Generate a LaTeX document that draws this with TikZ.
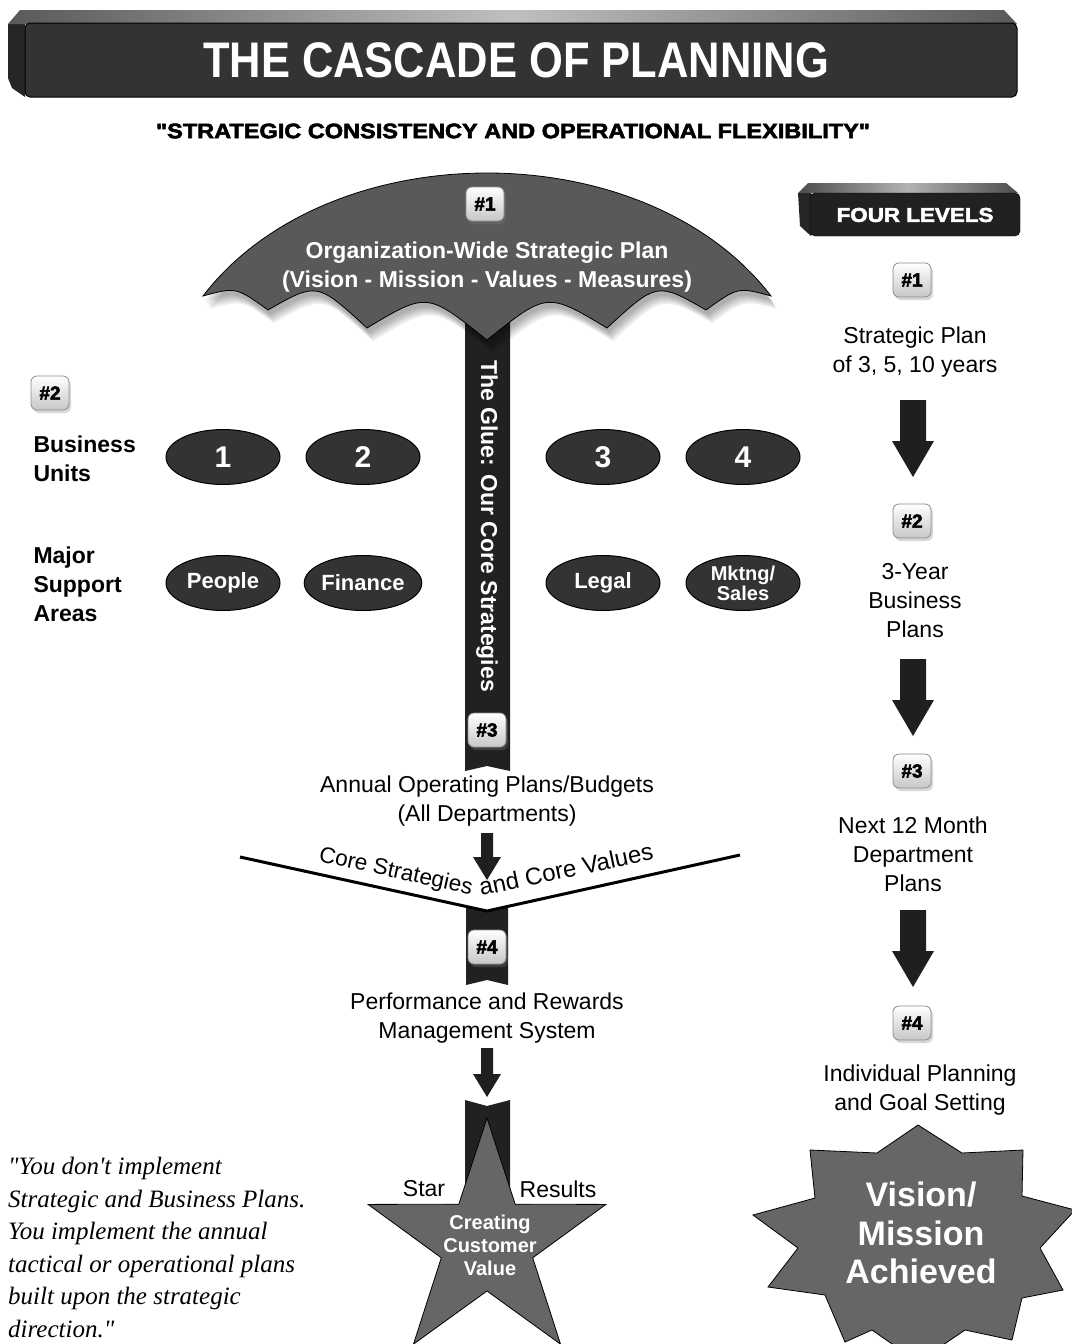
\documentclass[tikz,border=0pt]{standalone}
\usepackage{fontspec}
\usepackage{graphicx}
\setmainfont{Liberation Sans}
\newfontfamily\quotefont{Liberation Serif}
\newfontfamily\heavyfont{Liberation Sans}[BoldFeatures={FakeBold=2.5}]
\usetikzlibrary{shapes.geometric,shadows}

\newcommand\sz[2]{\fontsize{#1}{#2}\selectfont}

% outline of the umbrella canopy: round top, scalloped rim
\newcommand\canopypath{
  (203,296) .. controls (265,215) and (375,173) .. (487,173)
  .. controls (599,173) and (709,215) .. (771,296)
  .. controls (738,287) .. (706,310)
  .. controls (657,282) .. (607,328)
  .. controls (547,292) .. (487,340)
  .. controls (427,292) .. (367,328)
  .. controls (317,282) .. (268,310)
  .. controls (236,287) .. (203,296) -- cycle}

\tikzset{
  stick/.style={fill=black!87},
  badge/.style={draw=black!45, line width=.8pt, rounded corners=6pt,
    top color=white, bottom color=black!22, minimum width=38pt,
    minimum height=34pt, inner sep=0pt,
    font=\heavyfont\bfseries\sz{19}{22},
    drop shadow={opacity=.3, shadow xshift=2pt, shadow yshift=-3pt}},
  unit/.style={ellipse, draw=black, line width=1pt, fill=black!80,
    text=white, minimum width=114pt, minimum height=55pt, inner sep=0pt},
  plain/.style={align=center, font=\sz{23}{29}},
  sidelabel/.style={align=left, font=\bfseries\sz{23}{29}, anchor=west},
  shape fill/.style={fill=black!60, draw=black, line width=.8pt},
  pics/downarrow/.style args={#1/#2/#3/#4}{code={
    \fill[black!88] (-#2,0) -- (#2,0) -- (#2,#1-#4) -- (#3,#1-#4)
      -- (0,#1) -- (-#3,#1-#4) -- (-#2,#1-#4) -- cycle;}}
}

\begin{document}
\begin{tikzpicture}[x=1pt,y=-1pt]
\useasboundingbox (0,0) rectangle (1071,1344);
\fill[white] (0,0) rectangle (1071,1344);

% ---------- title bar ----------
\fill[black!85] (8,24) -- (25,24) -- (25,97) -- (12,88) -- (8,78) -- cycle;
\shade[left color=black!65, right color=black!65, middle color=black!25]
  (8,24) -- (20,10) -- (1004,10) -- (1017,24) -- cycle;
\draw[black, fill=black!80, rounded corners=5pt, line width=1pt] (25,23) rectangle (1017,97);
\node[text=white, font=\bfseries\sz{50}{56}] (title) at (516,60)
  {\scalebox{0.87}[1]{THE CASCADE OF PLANNING}};
\node[font=\heavyfont\bfseries\sz{21}{25}] (motto) at (513,131)
  {\scalebox{1.12}[1]{"STRATEGIC CONSISTENCY AND OPERATIONAL FLEXIBILITY"}};

% ---------- umbrella ----------
\fill[stick] (465,320) -- (510,320) -- (510,771) -- (487,766) -- (465,771) -- cycle;
% soft shadow under the canopy, built from a few faint offset copies
\foreach \k in {1,...,5}
  \fill[black, opacity=.07, shift={(1+\k,3+2*\k)}] \canopypath;
\path[fill=black!65, draw=black, line width=.8pt] \canopypath;
\node[badge] (top1) at (485,204) {\#1};
\node[text=white, font=\bfseries\sz{23}{29}, align=center] (orgplan) at (487,267)
  {Organization-Wide Strategic Plan\\(Vision - Mission - Values - Measures)};
\node[rotate=-90, text=white, font=\bfseries\sz{23}{26}] (glue) at (487,526)
  {The Glue: Our Core Strategies};
\node[badge] (mid3) at (487,730) {\#3};

% ---------- business units and support areas ----------
\node[badge] (left2) at (50,393) {\#2};
\node[sidelabel] (bunits) at (30,459) {Business\\Units};
\node[sidelabel] (support) at (30,584) {Major\\Support\\Areas};

\node[unit, font=\bfseries\sz{30}{30}] (u1) at (223,457) {1};
\node[unit, font=\bfseries\sz{30}{30}] (u2) at (363,457) {2};
\node[unit, font=\bfseries\sz{30}{30}] (u3) at (603,457) {3};
\node[unit, font=\bfseries\sz{30}{30}] (u4) at (743,457) {4};
\node[unit, font=\bfseries\sz{22}{24}] (people) at (223,583) {People};
\node[unit, font=\bfseries\sz{22}{24}] (finance) at (363,583) {Finance};
\node[unit, font=\bfseries\sz{22}{24}] (legal) at (603,583) {Legal};
\node[unit, font=\bfseries\sz{20}{18}, align=center] (mktg) at (743,583) {Mktng/\\Sales};

% ---------- operating plans and the V ----------
\node[plain] (annual) at (487,801) {Annual Operating Plans/Budgets\\(All Departments)};
\pic (arrV) at (487,833) {downarrow={47/6/14/23}};
\fill[stick] (466,906) -- (487,911) -- (508,906) -- (508,985) -- (487,980) -- (466,985) -- cycle;
\coordinate (vl) at (240,857);
\coordinate (vm) at (487,911);
\coordinate (vr) at (740,855);
\draw[line width=3pt, line join=miter] (vl) -- (vm) -- (vr);
\node[rotate=-12.5, anchor=base west, font=\sz{22.5}{24}, inner sep=0pt] (cstrat) at (318,861) {Core Strategies};
\node[rotate=12, anchor=base west, font=\sz{24}{26}, inner sep=0pt] (cvalues) at (481,896) {and Core Values};
\node[badge] (mid4) at (487,947) {\#4};
\node[plain] (perf) at (487,1018) {Performance and Rewards\\Management System};
\pic (arrS) at (487,1048) {downarrow={49/6/14/23}};

% ---------- star ----------
\fill[stick] (465,1100) -- (487,1106) -- (510,1100) -- (510,1230) -- (465,1230) -- cycle;
\draw[shape fill, line join=miter]
  (487,1118) -- (515.2,1204.2) -- (605.9,1204.4) -- (532.7,1257.8) -- (560.5,1344.1)
  -- (487,1291) -- (413.5,1344.1) -- (441.3,1257.8) -- (368.1,1204.4) -- (458.8,1204.2) -- cycle;
\node[font=\sz{23}{26}] (startxt) at (424,1189) {Star};
\node[font=\sz{23}{26}] (results) at (558,1189) {Results};
\node[text=white, font=\bfseries\sz{20}{23}, align=center] (custval) at (490,1245)
  {Creating\\Customer\\Value};

% ---------- quotation ----------
\node[anchor=north west, align=left, inner sep=0pt,
      font=\quotefont\itshape\sz{25}{32.5}] (quote) at (8,1157)
  {"You don't implement\\Strategic and Business Plans.\\You implement the annual\\tactical or operational plans\\built upon the strategic\\direction."};

% ---------- four levels column ----------
\shade[left color=black!70, right color=black!70, middle color=black!30]
  (798,193) -- (808,183) -- (1006,183) -- (1018,193) -- cycle;
\fill[black!85] (798,193) -- (811,193) -- (811,236) -- (800,226) -- cycle;
\draw[black, fill=black!87, rounded corners=5pt] (810,193) rectangle (1020,236);
\node[text=white, font=\heavyfont\bfseries\sz{20}{24}] (levels) at (915,215)
  {\scalebox{1.12}[1]{FOUR LEVELS}};

\node[badge] (r1) at (912,280) {\#1};
\node[plain] (stratplan) at (915,352) {Strategic Plan\\of 3, 5, 10 years};
\pic (arr1) at (913,400) {downarrow={77/13/21/36}};
\node[badge] (r2) at (912,521) {\#2};
\node[plain] (busplan) at (915,601) {3-Year\\Business\\Plans};
\pic (arr2) at (913,659) {downarrow={77/13/21/36}};
\node[badge] (r3) at (912,771) {\#3};
\node[plain] (deptplan) at (913,854) {Next 12 Month\\Department\\Plans};
\pic (arr3) at (913,910) {downarrow={77/13/21/36}};
\node[badge] (r4) at (912,1023) {\#4};
\node[plain] (indiv) at (920,1090) {Individual Planning\\and Goal Setting};

\draw[shape fill, line join=miter]
  (918,1125) -- (962,1153) -- (1023,1150) -- (1022,1196) -- (1075,1210) -- (1040,1248)
  -- (1063,1290) -- (1022,1298) -- (1012,1340) -- (965,1330) -- (918,1362) -- (872,1330)
  -- (845,1342) -- (825,1295) -- (768,1287) -- (798,1248) -- (753,1215) -- (815,1198)
  -- (810,1150) -- (877,1153) -- cycle;
\node[text=white, font=\bfseries\sz{34}{38.5}, align=center] (vision) at (921,1233)
  {Vision/\\Mission\\Achieved};
\end{tikzpicture}
\end{document}
